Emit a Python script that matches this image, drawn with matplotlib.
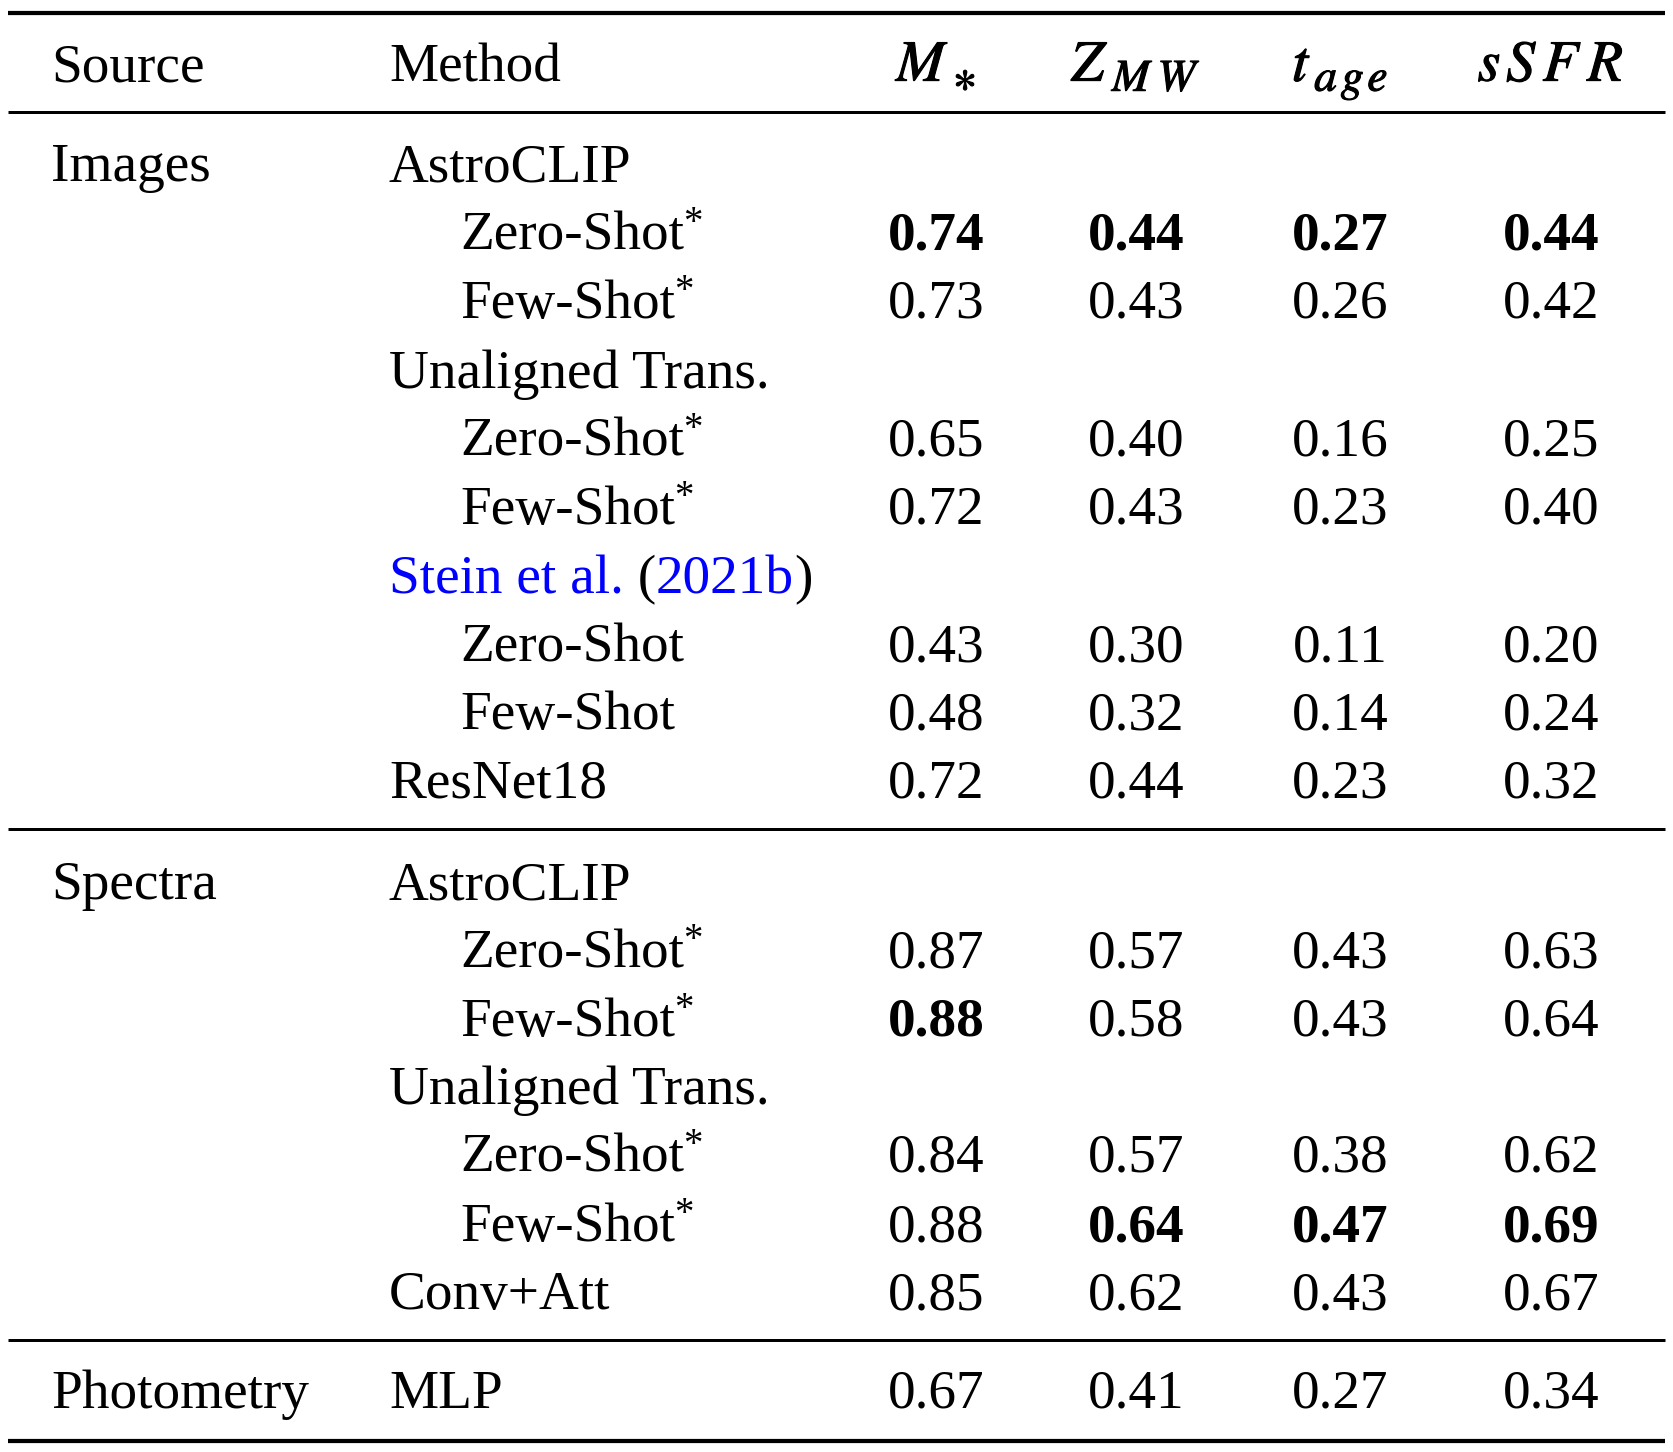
import matplotlib
matplotlib.use("Agg")
import matplotlib.pyplot as plt
import matplotlib.patheffects as pe

plt.rcParams['mathtext.fontset'] = 'stix'
plt.rcParams['font.family'] = ['Liberation Serif', 'DejaVu Serif']

# ---- data ----
# header: list of (text, is_subscript) pieces per column
col_headers = [
    [("M", 0), ("∗", 1)],
    [("Z", 0), ("M", 1), ("W", 1)],
    [("t", 0), ("a", 1), ("g", 1), ("e", 1)],
    [("s", 0), ("S", 0), ("F", 0), ("R", 0)],
]
sources = ["Images", "", "", "", "", "", "", "", "", "",
           "Spectra", "", "", "", "", "", "",
           "Photometry"]
methods = ["AstroCLIP", "Zero-Shot*", "Few-Shot*", "Unaligned Trans.", "Zero-Shot*", "Few-Shot*",
           "Stein et al. (2021b)", "Zero-Shot", "Few-Shot", "ResNet18",
           "AstroCLIP", "Zero-Shot*", "Few-Shot*", "Unaligned Trans.", "Zero-Shot*", "Few-Shot*",
           "Conv+Att",
           "MLP"]
indented = [0, 1, 1, 0, 1, 1, 0, 1, 1, 0,
            0, 1, 1, 0, 1, 1, 0,
            0]
m_star = [None, 0.74, 0.73, None, 0.65, 0.72, None, 0.43, 0.48, 0.72,
          None, 0.87, 0.88, None, 0.84, 0.88, 0.85,
          0.67]
z_mw = [None, 0.44, 0.43, None, 0.40, 0.43, None, 0.30, 0.32, 0.44,
        None, 0.57, 0.58, None, 0.57, 0.64, 0.62,
        0.41]
t_age = [None, 0.27, 0.26, None, 0.16, 0.23, None, 0.11, 0.14, 0.23,
         None, 0.43, 0.43, None, 0.38, 0.47, 0.43,
         0.27]
ssfr = [None, 0.44, 0.42, None, 0.25, 0.40, None, 0.20, 0.24, 0.32,
        None, 0.63, 0.64, None, 0.62, 0.69, 0.67,
        0.34]
bold_m = [0, 1, 0, 0, 0, 0, 0, 0, 0, 0, 0, 0, 1, 0, 0, 0, 0, 0]
bold_z = [0, 1, 0, 0, 0, 0, 0, 0, 0, 0, 0, 0, 0, 0, 0, 1, 0, 0]
bold_t = [0, 1, 0, 0, 0, 0, 0, 0, 0, 0, 0, 0, 0, 0, 0, 1, 0, 0]
bold_s = [0, 1, 0, 0, 0, 0, 0, 0, 0, 0, 0, 0, 0, 0, 0, 1, 0, 0]

# ---- layout ----
W, H = 1674, 1452
fig = plt.figure(figsize=(W / 100, H / 100), dpi=100)
ax = fig.add_axes([0, 0, 1, 1])
ax.set_xlim(0, W)
ax.set_ylim(H, 0)
ax.axis('off')

FS = 39.8
HFS = 42
SUB = 0.78
x_src = 51
x_meth = 389
x_ind = 460
x_cols = [936, 1136, 1340, 1551]
head_track = [3, 3, 3, 5]
y_header = 81
row_base = [181, 250, 318, 388, 456, 524, 593, 661, 729, 797,
            899, 967, 1036, 1104, 1172, 1241, 1309,
            1408]
rules = [(13, 4.2), (112, 3.0), (828.5, 3.0), (1340, 3.0), (1441, 4.2)]

for y, lw in rules:
    ax.plot([8, 1665], [y, y], color='black', lw=lw * 0.72, solid_capstyle='butt')

ax.text(x_src, y_header, "Source", fontsize=FS, va='baseline', ha='left')
ax.text(x_meth, y_header, "Method", fontsize=FS, va='baseline', ha='left')

fig.canvas.draw()
renderer = fig.canvas.get_renderer()
inv = ax.transData.inverted()


def width_of(t):
    bb = t.get_window_extent(renderer=renderer)
    p0 = inv.transform((bb.x0, bb.y0))
    p1 = inv.transform((bb.x1, bb.y0))
    return p1[0] - p0[0]


# header math, letter by letter with tracking, centred on the columns
heavy = [pe.withStroke(linewidth=0.8, foreground='black')]
for xc, pieces, trk in zip(x_cols, col_headers, head_track):
    objs = []
    for s, sub in pieces:
        size = HFS * SUB if sub else HFS
        dy = 10 if sub else 0
        if s == "∗":
            dy = 11
        t = ax.text(0, y_header + dy, f"${s}$", fontsize=size, va='baseline',
                    ha='left', path_effects=heavy)
        objs.append(t)
    widths = [width_of(t) for t in objs]
    total = sum(widths) + trk * (len(objs) - 1)
    x = xc - total / 2
    for t, w in zip(objs, widths):
        t.set_x(x)
        x += w + trk


def draw_pieces(x, y, pieces):
    """Draw consecutive text pieces (text, color) starting at x (data coords)."""
    for s, c in pieces:
        t = ax.text(x, y, s, fontsize=FS, va='baseline', ha='left', color=c)
        x += width_of(t)
    return x


for i, (src, meth) in enumerate(zip(sources, methods)):
    yb = row_base[i]
    if src:
        ax.text(x_src, yb, src, fontsize=FS, va='baseline', ha='left')
    xm = x_ind if indented[i] else x_meth
    if meth.startswith("Stein"):
        draw_pieces(xm, yb, [("Stein et al.", 'blue'), (" (", 'black'),
                             ("2021b", 'blue'), (")", 'black')])
    elif meth.endswith("*"):
        xe = draw_pieces(xm, yb, [(meth[:-1], 'black')])
        ax.text(xe - 1, yb - 17, "*", fontsize=FS * 0.7, va='baseline', ha='left')
    else:
        ax.text(xm, yb, meth, fontsize=FS, va='baseline', ha='left')
    for x, vals, bolds in zip(x_cols, [m_star, z_mw, t_age, ssfr],
                              [bold_m, bold_z, bold_t, bold_s]):
        v = vals[i]
        if v is None:
            continue
        ax.text(x, yb, f"{v:.2f}", fontsize=FS, va='baseline', ha='center',
                fontweight='bold' if bolds[i] else 'normal')

fig.savefig("out.png", dpi=100)
